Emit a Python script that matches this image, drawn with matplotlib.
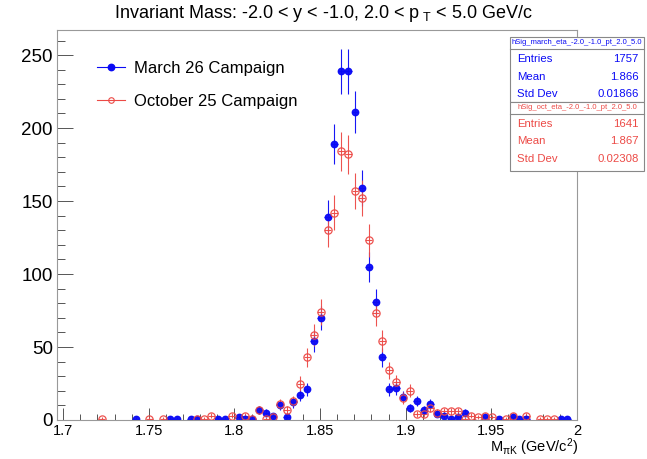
import numpy as np
import matplotlib.pyplot as plt
from matplotlib.lines import Line2D
from matplotlib.patches import Rectangle

plt.rcParams['font.family'] = ['Liberation Sans', 'DejaVu Sans']
plt.rcParams['mathtext.fontset'] = 'custom'
plt.rcParams['mathtext.rm'] = 'Liberation Sans'
plt.rcParams['mathtext.it'] = 'Liberation Sans'

# histogram definition (low edge, bin width)
x_low = 1.6964
x_high = 2.0
bin_width = 0.004

# March 26 campaign: filled bins and contents
march_bin = [11, 16, 17, 19, 20, 23, 24, 26, 27, 28, 29, 30, 31, 32, 33, 34, 35, 36,
             37, 38, 39, 40, 41, 42, 43, 44, 45, 46, 47, 48, 49, 50, 51, 52, 53, 54,
             55, 56, 57, 58, 59, 62, 64, 66, 67, 68, 73, 74]
march_counts = [1, 1, 1, 1, 1, 1, 1, 2, 1, 1, 7, 5, 3, 10, 2, 12, 17, 21,
                54, 70, 139, 189, 239, 239, 211, 159, 105, 81, 43, 21, 22, 16, 8, 13, 7, 11,
                4, 3, 1, 2, 5, 2, 1, 2, 1, 1, 1, 1]

# October 25 campaign
oct_bin = [6, 13, 15, 20, 21, 22, 25, 27, 28, 29, 30, 31, 32, 33, 34, 35, 36, 37,
           38, 39, 40, 41, 42, 43, 44, 45, 46, 47, 48, 49, 50, 51, 52, 53, 54, 55,
           56, 57, 58, 59, 60, 61, 62, 63, 65, 66, 68, 70, 71, 72]
oct_counts = [1, 1, 1, 1, 1, 3, 3, 3, 1, 7, 1, 2, 11, 7, 13, 25, 43, 58,
              74, 130, 142, 184, 182, 157, 152, 123, 73, 54, 34, 26, 15, 20, 4, 4, 8, 5,
              6, 6, 6, 1, 3, 2, 3, 2, 1, 3, 3, 1, 1, 1]

labels = ['March 26 Campaign', 'October 25 Campaign']
stats_names = ['hSig_march_eta_-2.0_-1.0_pt_2.0_5.0', 'hSig_oct_eta_-2.0_-1.0_pt_2.0_5.0']
stats_entries = ['1757', '1641']
stats_mean = ['1.866', '1.867']
stats_std = ['0.01866', '0.02308']

blue = '#0a0af5'
red = '#ec4a46'

W, H = 647, 459
fig = plt.figure(figsize=(W / 100, H / 100), dpi=100)
ax = fig.add_axes([57 / W, 39 / H, 520 / W, 390 / H])

mx = x_low + (np.array(march_bin) + 0.5) * bin_width
my = np.array(march_counts, dtype=float)
ox = x_low + (np.array(oct_bin) + 0.5) * bin_width
oy = np.array(oct_counts, dtype=float)

ax.errorbar(mx, my, yerr=np.sqrt(my), xerr=bin_width / 2, fmt='o', color=blue,
            ms=4.6, elinewidth=0.8, capsize=0, alpha=0.95)
ax.errorbar(ox, oy, yerr=np.sqrt(oy), xerr=bin_width / 2, fmt='o', color=red,
            mfc='none', mec=red, ms=5.2, mew=0.9, elinewidth=0.8, capsize=0, alpha=0.95)

ax.set_xlim(x_low, x_high)
ax.set_ylim(0, 267.2)
ax.set_xticks([1.7, 1.75, 1.8, 1.85, 1.9, 1.95, 2.0])
ax.set_xticklabels(['1.7', '1.75', '1.8', '1.85', '1.9', '1.95', '2'])
ax.set_xticks(np.arange(1.7, 2.0, 0.01), minor=True)
ax.set_yticks(np.arange(0, 251, 50))
ax.set_yticks(np.arange(0, 261, 10), minor=True)
ax.tick_params(which='both', direction='in', top=False, right=False, color='#555555', width=0.7)
ax.tick_params(axis='x', which='major', length=8.4, labelsize=10.5, pad=3)
ax.tick_params(axis='x', which='minor', length=4.2)
ax.tick_params(axis='y', which='major', length=11.2, labelsize=13.5, pad=3)
ax.tick_params(axis='y', which='minor', length=5.6)
for s in ax.spines.values():
    s.set_color('#999999')
    s.set_linewidth(0.8)

fig.text(323 / W, 1 - 13 / H, r'Invariant Mass: -2.0 < y < -1.0, 2.0 < p$_{\ \mathrm{T}}$ < 5.0 GeV/c',
         ha='center', va='center', fontsize=13)
fig.text(578 / W, 1 - 447 / H, r'M$_{\mathrm{\pi K}}$ (GeV/c$^{2}$)',
         ha='right', va='center', fontsize=10.5)

handles = [Line2D([0], [0], color=blue, marker='o', ms=4.6, lw=0.8),
           Line2D([0], [0], color=red, marker='o', mfc='none', mec=red, ms=4, mew=0.8, lw=0.8)]
ax.legend(handles, labels, loc='upper left', bbox_to_anchor=(97 / W, 1 - 61 / H),
          bbox_transform=fig.transFigure, frameon=False, fontsize=12,
          handlelength=1.7, handletextpad=0.5, labelspacing=1.1,
          borderpad=0, borderaxespad=0)


def px(x):
    return x / W


def py(y):
    return 1 - y / H


# stats boxes
boxes = [(37, 102, blue, 0), (102, 171, red, 1)]
for top, bottom, col, i in boxes:
    fig.add_artist(Rectangle((px(510), py(bottom)), px(644) - px(510), py(top) - py(bottom),
                             transform=fig.transFigure, facecolor='white',
                             edgecolor='#888888', lw=0.8))
    fig.add_artist(Line2D([px(510), px(644)], [py(top + 12), py(top + 12)],
                          transform=fig.transFigure, color='#888888', lw=0.8))
    fig.text(px(577), py(top + 5.5), stats_names[i], ha='center', va='center',
             fontsize=5.5, color=col)
    rows = [('Entries', stats_entries[i]), ('Mean', stats_mean[i]), ('Std Dev', stats_std[i])]
    for j, (name, val) in enumerate(rows):
        yy = top + 22 + j * 17.5
        fig.text(px(517), py(yy), name, ha='left', va='center', fontsize=8.2, color=col)
        fig.text(px(638.5), py(yy), val, ha='right', va='center', fontsize=8.2, color=col)

fig.savefig('out.png', dpi=100)
